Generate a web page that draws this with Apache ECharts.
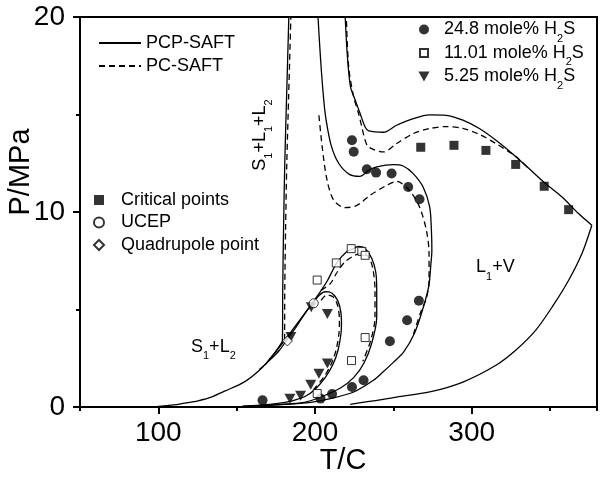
<!DOCTYPE html>
<html><head><meta charset="utf-8">
<script src="https://cdn.jsdelivr.net/npm/echarts@6/dist/echarts.min.js"></script>
<style>html,body{margin:0;padding:0;background:#fff}#c{width:600px;height:479px}</style>
</head><body><div id="c"></div>
<script>
const FONT = "'Liberation Sans', Arial, sans-serif";

// ---- axis settings ----
const xMin = 50, xMax = 380, yMin = 0, yMax = 20;
const xMajorTicks = [100, 200, 300];

// ---- PCP-SAFT (solid) curves: [T (C), P (MPa)] ----
const pcpSolidBoundary = [[100,0.03],[106.3,0.08],[112.7,0.14],[119,0.22],[125.3,0.32],[133.8,0.51],[142.3,0.81],[155.0,1.29],[165.5,1.96],[174.0,2.74],[178.1,3.22],[179.2,3.40],[179.4,6.0],[179.9,9.0],[180.7,12.5],[181.9,16.0],[183.4,20.3]];
const pcp248 = [[201.7,20.3],[203.6,17.78],[205.6,15.73],[207.1,14.71],[210.3,13.42],[215.1,12.50],[222.0,11.93],[228.6,11.83],[234.3,12.14],[239.4,12.31],[250.0,12.43],[256.3,12.36],[262.7,11.97],[269.0,11.28],[273.2,10.26],[274.3,9.06],[274.6,8.04],[273.9,7.27],[272.7,6.24],[269.2,5.13],[263.5,3.78],[256.5,2.81],[250.0,2.29],[243.2,1.78],[237.3,1.37],[224.7,0.77],[209.8,0.43],[199.3,0.26],[188.7,0.17],[176.0,0.11],[163.4,0.06],[153.9,0.04]];
const pcpUpper = [[219.1,20.3],[220.4,18.29],[221.7,17.01],[222.9,16.34],[225.7,15.73],[228.8,15.05],[232.0,14.36],[234.3,14.16],[243.7,14.09],[252.1,14.45],[262.7,14.79],[273.2,14.98],[283.8,14.96],[294.4,14.71],[304.9,14.28],[315.5,13.68],[326.0,12.99],[336.6,12.23],[347.1,11.46],[357.7,10.77],[368.2,9.92],[376.7,9.32]];
const pcpLower = [[376.7,9.32],[370.4,7.87],[361.9,6.50],[351.4,5.13],[340.8,3.93],[328.1,2.91],[315.5,2.14],[294.4,1.28],[273.2,0.77],[252.1,0.51],[237.3,0.31],[222.5,0.14]];
const pcp1101 = [[168.4,2.19],[179.2,3.27],[188.7,4.29],[196.3,5.11],[201.4,5.68],[207.7,6.45],[214.1,7.42],[220.4,7.98],[224.8,8.14],[228.0,8.24],[231.8,8.14],[236.2,7.63],[238.8,6.91],[239.4,5.98],[239.4,4.60],[236.2,3.27],[231.2,2.24],[224.8,1.52],[216.0,0.96],[203.3,0.50],[193.2,0.24],[182.4,0.16],[169.7,0.09],[157.0,0.04]];
const pcp525 = [[164.6,1.93],[171.0,2.39],[177.3,2.91],[182.6,3.51],[187.9,4.10],[194.2,4.87],[198.4,5.30],[202.7,5.73],[206.5,5.91],[209.0,5.90],[212.8,5.68],[215.6,5.22],[216.9,4.45],[216.6,3.78],[214.7,2.91],[211.5,2.19],[206.6,1.52],[200.1,0.91],[193.8,0.55],[185.5,0.32],[175.4,0.17],[164.6,0.09],[153.9,0.04]];

// ---- PC-SAFT (dashed) curves ----
const pcBoundary = [[180.6,3.45],[180.7,6.0],[181.2,9.0],[182.0,12.5],[183.2,16.0],[184.7,20.3]];
const pc248 = [[202.5,14.96],[204.6,13.33],[207.7,11.63],[212.0,10.60],[219.3,10.22],[226.7,10.34],[235.2,10.86],[245.8,11.37],[252.1,11.57],[260.3,11.11],[266.7,10.26],[271.1,9.06],[272.8,7.88],[272.8,6.50],[271.1,5.57],[267.9,4.96],[262.9,3.75]];
const pcUpper = [[219.9,20.3],[221.5,17.44],[224.7,15.90],[227.8,15.05],[229.9,14.36],[232.0,13.68],[234.2,13.33],[243.7,13.08],[252.1,13.51],[262.7,14.02],[273.2,14.28],[283.8,14.38],[294.4,14.29],[304.9,13.98],[315.5,13.51],[323.9,13.08],[328.1,12.86],[336.6,12.22]];
const pc1101 = [[203.9,5.98],[209.8,6.33],[214.1,6.91],[219.1,7.44],[224.7,7.75],[229.9,7.88],[234.3,7.68],[236.9,7.11],[238.3,5.98],[238.3,4.62],[235.6,3.42],[230.5,2.34]];
const pc525 = [[203.9,5.47],[207.7,5.75],[211.5,5.65],[214.4,5.22],[215.6,4.45],[215.3,3.78],[213.4,2.91],[210.3,2.19],[205.5,1.52],[199.2,0.91]];

// ---- experimental points ----
const exp248 = [[166.5,0.34],[203.5,0.43],[210.9,0.67],[223.6,1.03],[231.0,1.37],[247.8,3.37],[258.8,4.45],[266.3,5.45],[266.7,10.65],[259.5,11.28],[248.9,11.97],[239.0,12.02],[233.1,12.19],[224.7,13.09],[223.6,13.68]];
const exp1101 = [[223.1,8.12],[229.9,7.98],[232.0,7.78],[213.6,7.39],[201.4,6.51],[232.0,3.56],[223.3,2.38],[201.4,0.69]];
const exp525 = [[184.6,3.59],[197.6,5.11],[207.9,4.77],[207.9,2.23],[202.5,1.70],[197.3,1.14],[190.8,0.58],[184.0,0.42]];
const criticalPts = [[267.5,13.32],[288.7,13.42],[309.1,13.16],[328.1,12.44],[346.3,11.32],[361.9,10.12]];
const ucepPts = [[199.2,5.32]];
const quadPts = [[182.4,3.39]];

const names248 = '24.8 mole% H2S', names1101 = '11.01 mole% H2S', names525 = '5.25 mole% H2S';

const SQ = 'path://M0,0L10,0L10,10L0,10Z';
const SQ_OPEN = 'path://M0,0M10,10M1,1L9,1L9,9L1,9Z';
const TRI = 'path://M0,0L10,0L5,9Z';
const DIA = 'path://M5,0L10,5L5,10L0,5Z';

const rich = {
  a: {fontSize: 18, fontFamily: FONT, color: '#000', lineHeight: 29},
  s: {fontSize: 11, fontFamily: FONT, color: '#000', lineHeight: 11, verticalAlign: 'bottom'}
};

function solid(data) {
  return {type:'line', name:'PCP-SAFT', data, symbol:'none', smooth:0.3, silent:true, z:2,
    lineStyle:{color:'#000', width:1.3, type:'solid'}, itemStyle:{color:'#000'}};
}
function dashed(data) {
  return {type:'line', name:'PC-SAFT', data, symbol:'none', smooth:0.3, silent:true, z:2,
    lineStyle:{color:'#000', width:1.3, type:[6,4]}, itemStyle:{color:'#000'}};
}
function pts(name, data, symbol, size, fill) {
  return {type:'scatter', name, data, symbol, symbolSize:size, silent:true, z:4,
    itemStyle:{color:fill, borderColor:'#000', borderWidth: fill === '#fff' ? 1 : 0}};
}

const chart = echarts.init(document.getElementById('c'));
chart.setOption({
  animation: false,
  backgroundColor: '#fff',
  grid: {left:80, top:17, right:-2, bottom:72, show:true, borderColor:'#000', borderWidth:2, backgroundColor:'transparent'},
  xAxis: [
    {type:'value', min:xMin, max:xMax, interval:50, position:'bottom',
      axisLine:{show:true, onZero:false, lineStyle:{color:'#000', width:2}},
      axisTick:{show:true, length:4, lineStyle:{color:'#000', width:2}},
      axisLabel:{margin:12, fontSize:28, fontFamily:FONT, color:'#000',
        formatter: v => (xMajorTicks.indexOf(v) >= 0 ? String(v) : '')},
      splitLine:{show:false}},
    {type:'value', min:xMin, max:xMax, position:'bottom',
      axisLine:{show:false, onZero:false},
      axisTick:{show:true, length:7, customValues:xMajorTicks, lineStyle:{color:'#000', width:2}},
      axisLabel:{show:false},
      splitLine:{show:false}}
  ],
  yAxis: {type:'value', min:yMin, max:yMax, interval:10,
    axisLine:{show:true, onZero:false, lineStyle:{color:'#000', width:2}},
    axisTick:{show:true, length:7, lineStyle:{color:'#000', width:2}},
    minorTick:{show:true, splitNumber:2, length:4, lineStyle:{color:'#000', width:2}},
    axisLabel:{margin:15, fontSize:28, fontFamily:FONT, color:'#000'},
    splitLine:{show:false}},
  legend: [
    {data:['PCP-SAFT','PC-SAFT'], orient:'vertical', left:98, top:34, padding:0,
      itemWidth:42, itemHeight:14, itemGap:5, selectedMode:false,
      itemStyle:{color:'transparent', borderColor:'transparent', borderWidth:0, opacity:0},
      textStyle:{fontSize:18, fontFamily:FONT, color:'#000', lineHeight:18}},
    {data:[{name:'Critical points', icon:SQ}, {name:'UCEP', icon:'circle'}, {name:'Quadrupole point', icon:DIA}],
      orient:'vertical', left:93, top:191, padding:0, itemWidth:34, itemHeight:10, itemGap:4.5, selectedMode:false,
      textStyle:{fontSize:18, fontFamily:FONT, color:'#000', lineHeight:18}},
    {data:[{name:names248, icon:'circle'}, {name:names1101, icon:SQ_OPEN}, {name:names525, icon:TRI}],
      orient:'vertical', left:418, top:20.5, padding:0, itemWidth:30, itemHeight:10, itemGap:0, selectedMode:false,
      formatter: n => '{a|' + n.replace('H2S', 'H') + '}{s|2}{a|S}',
      textStyle:{fontSize:18, fontFamily:FONT, color:'#000', rich}}
  ],
  graphic: [
    {type:'text', x:21, y:172, rotation:Math.PI/2, silent:true,
      style:{text:'P/MPa', font:'29px ' + FONT, fill:'#000', align:'center', verticalAlign:'middle'}},
    {type:'text', x:343, y:461, silent:true,
      style:{text:'T/C', font:'29px ' + FONT, fill:'#000', align:'center', verticalAlign:'middle'}},
    {type:'text', x:260, y:135, rotation:Math.PI/2, silent:true,
      style:{text:'{a|S}{s|1}{a|+L}{s|1}{a|+L}{s|2}', rich, align:'center', verticalAlign:'middle'}},
    {type:'text', x:191, y:346.7, silent:true,
      style:{text:'{a|S}{s|1}{a|+L}{s|2}', rich, align:'left', verticalAlign:'middle'}},
    {type:'text', x:476, y:267.5, silent:true,
      style:{text:'{a|L}{s|1}{a|+V}', rich, align:'left', verticalAlign:'middle'}}
  ],
  series: [
    solid(pcpSolidBoundary), solid(pcp248), solid(pcpUpper), solid(pcpLower), solid(pcp1101), solid(pcp525),
    dashed(pcBoundary), dashed(pc248), dashed(pcUpper), dashed(pc1101), dashed(pc525),
    pts(names248, exp248, 'circle', 10, '#000'),
    pts(names1101, exp1101, SQ_OPEN, 10, '#fff'),
    pts(names525, exp525, TRI, [11, 10], '#000'),
    pts('Critical points', criticalPts, SQ, 9, '#000'),
    pts('UCEP', ucepPts, 'circle', 9, '#fff'),
    pts('Quadrupole point', quadPts, DIA, 10, '#fff')
  ]
});
</script>
</body></html>
